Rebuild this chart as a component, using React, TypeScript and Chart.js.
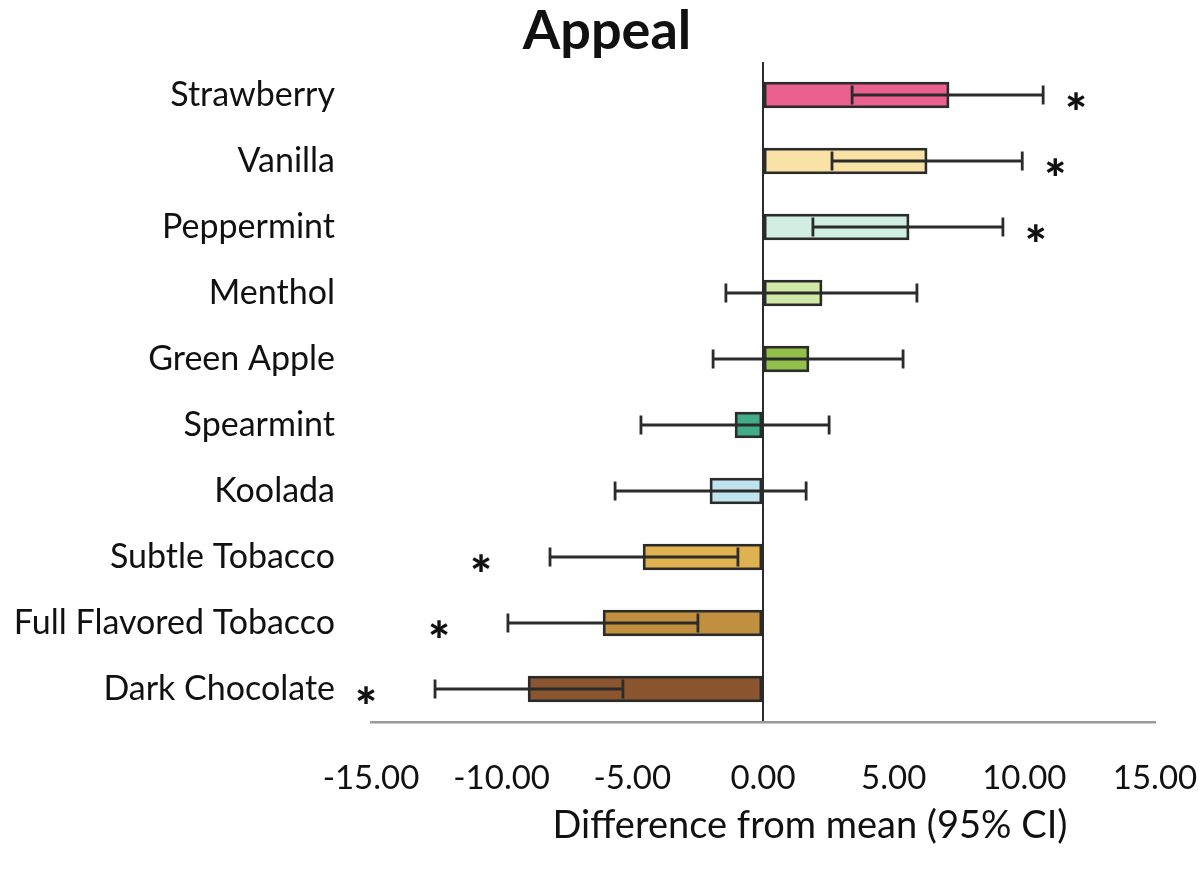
import React, { useEffect, useRef } from "react";
import { Chart, registerables } from "chart.js";

Chart.register(...registerables);

const categories = [
  "Strawberry",
  "Vanilla",
  "Peppermint",
  "Menthol",
  "Green Apple",
  "Spearmint",
  "Koolada",
  "Subtle Tobacco",
  "Full Flavored Tobacco",
  "Dark Chocolate",
];
const means = [7.12, 6.28, 5.59, 2.26, 1.76, -1.07, -2.03, -4.59, -6.12, -8.99];
const ciLow = [3.41, 2.64, 1.91, -1.42, -1.91, -4.67, -5.66, -8.15, -9.76, -12.55];
const ciHigh = [10.72, 9.92, 9.18, 5.89, 5.36, 2.53, 1.65, -0.96, -2.49, -5.36];
const significant = [true, true, true, false, false, false, false, true, true, true];
const barColors = [
  "#ea6190",
  "#f8e2a6",
  "#d2eee3",
  "#d0e9a7",
  "#93c04a",
  "#40ad88",
  "#c0e4ed",
  "#e0b24f",
  "#c1903f",
  "#8a552f",
];
const xTicks = [-15, -10, -5, 0, 5, 10, 15];
const chartTitle = "Appeal";
const xAxisTitle = "Difference from mean (95% CI)";

const FONT = "Lato, 'Open Sans', sans-serif";
const INK = "#2b2b2b";

const errorBarPlugin = {
  id: "errorBars",
  afterDatasetsDraw(chart: any) {
    const meta = chart.getDatasetMeta(0);
    const xs = chart.scales.x;
    const ctx = chart.ctx;
    ctx.save();
    ctx.strokeStyle = INK;
    ctx.lineWidth = 2.8;
    meta.data.forEach((bar: any, i: number) => {
      const y = bar.y;
      const x1 = xs.getPixelForValue(ciLow[i]);
      const x2 = xs.getPixelForValue(ciHigh[i]);
      const cap = 9.5;
      ctx.beginPath();
      ctx.moveTo(x1, y);
      ctx.lineTo(x2, y);
      ctx.moveTo(x1, y - cap);
      ctx.lineTo(x1, y + cap);
      ctx.moveTo(x2, y - cap);
      ctx.lineTo(x2, y + cap);
      ctx.stroke();
      if (significant[i]) {
        ctx.fillStyle = "#111";
        ctx.font = `900 52px ${FONT}`;
        ctx.textAlign = "center";
        ctx.textBaseline = "alphabetic";
        const m = ctx.measureText("*");
        const sx = means[i] >= 0 ? x2 + 33 : x1 - 69;
        const sy = y + 6 + (m.actualBoundingBoxAscent - m.actualBoundingBoxDescent) / 2;
        ctx.fillText("*", sx, sy);
      }
    });
    ctx.restore();
  },
  afterDraw(chart: any) {
    const ctx = chart.ctx;
    ctx.save();
    ctx.fillStyle = "#111";
    ctx.textAlign = "center";
    ctx.textBaseline = "alphabetic";
    ctx.font = `bold 54px ${FONT}`;
    ctx.fillText(chartTitle, 607, 49);
    ctx.textBaseline = "middle";
    ctx.font = `38px ${FONT}`;
    ctx.fillText(xAxisTitle, 810, 826);
    ctx.restore();
  },
};

export default function App() {
  const canvasRef = useRef<HTMLCanvasElement | null>(null);

  useEffect(() => {
    if (!canvasRef.current) return;
    const chart = new Chart(canvasRef.current, {
      type: "bar",
      data: {
        labels: categories,
        datasets: [
          {
            data: means,
            backgroundColor: barColors,
            borderColor: INK,
            borderWidth: 2.8,
            borderSkipped: false,
            barThickness: 26,
          },
        ],
      },
      plugins: [errorBarPlugin],
      options: {
        indexAxis: "y",
        responsive: false,
        animation: false,
        layout: { padding: { left: 0, right: 45, top: 62, bottom: 0 } },
        plugins: {
          legend: { display: false },
          tooltip: { enabled: false },
          title: { display: false },
        },
        scales: {
          x: {
            type: "linear",
            min: -15,
            max: 15,
            afterBuildTicks: (scale: any) => {
              scale.ticks = xTicks.map((v) => ({ value: v }));
            },
            afterFit: (scale: any) => {
              scale.height = 153;
              scale.paddingLeft = 0;
              scale.paddingRight = 0;
            },
            ticks: {
              color: "#111",
              font: { family: FONT, size: 33 },
              padding: 37,
              maxRotation: 0,
              callback: (v: any) => Number(v).toFixed(2),
            },
            grid: {
              drawTicks: false,
              lineWidth: 2,
              color: (c: any) => (c.tick && c.tick.value === 0 ? INK : "rgba(0,0,0,0)"),
            },
            border: { display: true, color: "#9a9a9a", width: 2.5 },
          },
          y: {
            type: "category",
            afterFit: (scale: any) => {
              scale.width = 371;
              scale.paddingTop = 0;
              scale.paddingBottom = 0;
            },
            ticks: {
              color: "#111",
              font: { family: FONT, size: 34 },
              padding: 36,
            },
            grid: { display: false, drawTicks: false },
            border: { display: false },
          },
        },
      },
    } as any);
    return () => chart.destroy();
  }, []);

  return (
    <div style={{ position: "absolute", left: 0, top: 0, width: 1200, height: 875, background: "#fff" }}>
      <canvas ref={canvasRef} width={1200} height={875} style={{ display: "block" }} />
    </div>
  );
}
